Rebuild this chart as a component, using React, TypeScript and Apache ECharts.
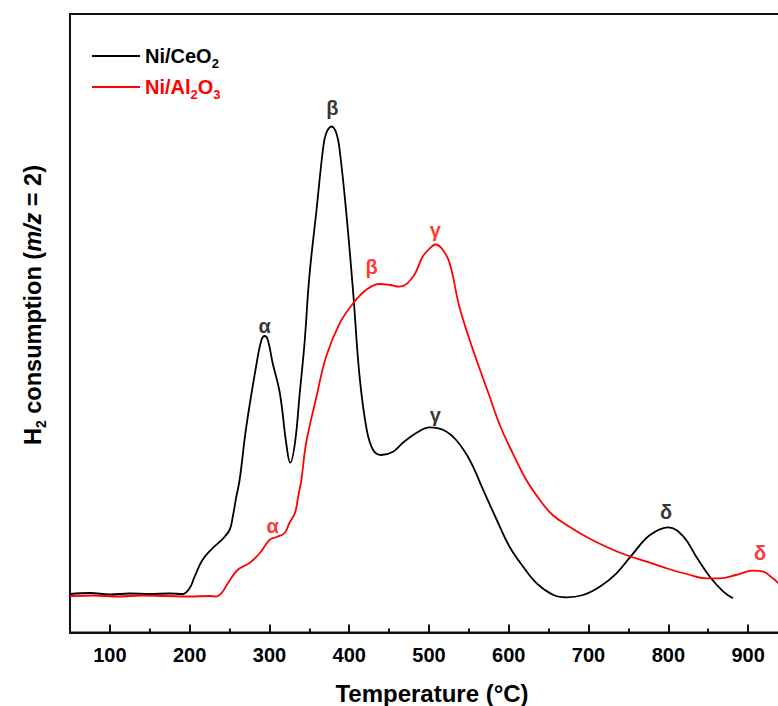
import React, { useEffect, useRef } from "react";
import * as echarts from "echarts";

// Temperature (°C) / H2 signal (arbitrary units)
const ceO2Curve: number[][] = [
  [50, 38.5], [75, 39.5], [100, 38], [125, 39], [150, 38.5], [175, 39], [191, 38.5],
  [200, 44.5], [206, 55.5], [216, 72.5], [229, 84.5], [240, 92.5], [250, 102.5],
  [254, 115.8], [258.5, 135.8], [262.6, 152.5], [271, 205.8], [284, 269.5], [290, 292.5],
  [294, 296.5], [298, 292.5], [304, 269.5], [313, 239.5], [321, 189.5], [326, 169.8],
  [332, 189.5], [338, 239.5], [344, 289.5], [350, 355.8], [359, 422.5], [367, 482.5],
  [371, 499], [378, 506], [384, 499], [388, 482.5], [396, 422.5], [405, 339.5],
  [413, 255.8], [422, 202.5], [430, 182.5], [440, 177.5], [455, 180.8], [467, 189.5],
  [484, 199.5], [501, 205.2], [518, 202.5], [534, 192.5], [551, 172.5], [568, 142.5],
  [585, 112.5], [601, 85.8], [618, 65.8], [635, 49.2], [656, 37.5], [672, 35.2],
  [693, 37.5], [714, 45.8], [735, 59.2], [756, 79.2], [777, 97.5], [800, 105.2],
  [819, 95.8], [835, 75.8], [852, 55.8], [869, 40.8], [881, 34.2]
];

const al2O3Curve: number[][] = [
  [50, 36.5], [80, 37], [110, 36], [140, 37], [170, 36.5], [200, 36], [225, 36.5],
  [233, 36], [241, 40.5], [248, 49.5], [260, 62.5], [275, 69.5], [288, 79.5],
  [300, 92.5], [309, 95.5], [319, 99.5], [325, 109.5], [332, 119.5], [336, 135.8],
  [340, 152.5], [346, 189.5], [359, 235.8], [371, 275.8], [388, 309.2], [405, 329.2],
  [421, 342.5], [438, 348.5], [451, 347.5], [463, 345.8], [480, 355.8], [492, 375.8],
  [501, 384.2], [508, 388], [517, 383], [526, 369], [538, 326], [551, 292.5],
  [564, 262.5], [576, 236], [589, 207], [605, 179.2], [622, 152.5], [639, 132.5],
  [655, 117.5], [676, 105.8], [697, 95.8], [722, 85.8], [747, 77.5], [773, 70.8],
  [798, 64.2], [823, 58.5], [848, 54.2], [864, 54.2], [885, 57.5], [906, 61.8],
  [919, 60.8], [931, 54.2], [938, 49.2], [950, 40]
];

// Peak labels: [temperature, signal, letter]
const ceO2Peaks: (number | string)[][] = [
  [294, 306.5, "α"], [379, 524.5, "β"], [508, 217.5, "γ"], [797, 120.8, "δ"]
];
const al2O3Peaks: (number | string)[][] = [
  [304, 106.5, "α"], [428, 365.8, "β"], [508, 402.5, "γ"], [915, 79.2, "δ"]
];

const majorTicks = [100, 200, 300, 400, 500, 600, 700, 800, 900];
const minorTicks = [150, 250, 350, 450, 550, 650, 750, 850];

const seriesNames = ["Ni/CeO2", "Ni/Al2O3"];
const legendRich: Record<string, string> = {
  "Ni/CeO2": "{n|Ni/CeO}{s|2}",
  "Ni/Al2O3": "{n|Ni/Al}{s|2}{n|O}{s|3}"
};

const FONT = "'Liberation Sans', Arial, Helvetica, sans-serif";

export default function App() {
  const ref = useRef<HTMLDivElement>(null);
  useEffect(() => {
    if (!ref.current) return;
    const chart = echarts.init(ref.current, undefined, { renderer: "svg" });
    const peakLabel = (color: string) => ({
      show: true,
      position: "inside" as const,
      formatter: (p: any) => p.data[2],
      fontSize: 20,
      fontWeight: "bold" as const,
      fontFamily: FONT,
      color
    });
    chart.setOption({
      animation: false,
      backgroundColor: "#fff",
      textStyle: { fontFamily: FONT },
      grid: {
        left: 70,
        top: 14,
        right: 2,
        bottom: 73.5,
        show: true,
        borderColor: "#111",
        borderWidth: 2,
        backgroundColor: "transparent"
      },
      legend: {
        orient: "vertical",
        left: 87,
        top: 37.5,
        itemGap: 4,
        itemWidth: 48,
        itemHeight: 2,
        icon: "rect",
        data: [
          { name: seriesNames[0], textStyle: { color: "#000" } },
          { name: seriesNames[1], textStyle: { color: "#ff0000" } }
        ],
        formatter: (name: string) => legendRich[name] || name,
        textStyle: {
          fontFamily: FONT,
          rich: {
            n: { fontSize: 20, fontWeight: "bold", fontFamily: FONT, lineHeight: 20 },
            s: { fontSize: 13, fontWeight: "bold", fontFamily: FONT, lineHeight: 13, padding: [14, 0, 0, 0] }
          }
        }
      },
      xAxis: [
        {
          type: "value",
          min: 50,
          max: 950,
          position: "bottom",
          splitLine: { show: false },
          axisLine: { show: true, onZero: false, lineStyle: { color: "#111", width: 2 } },
          axisTick: {
            show: true,
            inside: true,
            length: 8,
            customValues: majorTicks,
            lineStyle: { color: "#111", width: 2 }
          },
          axisLabel: {
            show: true,
            customValues: majorTicks,
            margin: 12,
            fontSize: 20,
            fontWeight: "bold",
            fontFamily: FONT,
            color: "#000"
          }
        },
        {
          type: "value",
          min: 50,
          max: 950,
          position: "bottom",
          splitLine: { show: false },
          axisLine: { show: false },
          axisTick: {
            show: true,
            inside: true,
            length: 4,
            customValues: minorTicks,
            lineStyle: { color: "#111", width: 2 }
          },
          axisLabel: { show: false }
        }
      ],
      yAxis: {
        type: "value",
        min: 0,
        max: 618.5,
        splitLine: { show: false },
        axisLine: { show: true, lineStyle: { color: "#111", width: 2 } },
        axisTick: { show: false },
        axisLabel: { show: false }
      },
      series: [
        {
          name: seriesNames[0],
          type: "line",
          data: ceO2Curve,
          showSymbol: false,
          symbol: "none",
          smooth: 0.4,
          color: "#000",
          lineStyle: { color: "#000", width: 1.8 }
        },
        {
          name: seriesNames[1],
          type: "line",
          data: al2O3Curve,
          showSymbol: false,
          symbol: "none",
          smooth: 0.4,
          color: "#ff0000",
          lineStyle: { color: "#ff0000", width: 1.8 }
        },
        {
          name: "ceO2 peaks",
          type: "scatter",
          data: ceO2Peaks,
          symbolSize: 1,
          itemStyle: { color: "rgba(0,0,0,0)" },
          label: peakLabel("#000"),
          silent: true
        },
        {
          name: "al2O3 peaks",
          type: "scatter",
          data: al2O3Peaks,
          symbolSize: 1,
          itemStyle: { color: "rgba(0,0,0,0)" },
          label: peakLabel("#ff0000"),
          silent: true
        }
      ],
      graphic: [
        {
          type: "text",
          x: 432,
          y: 693,
          style: {
            text: "Temperature (°C)",
            fontSize: 24,
            fontWeight: "bold",
            fontFamily: FONT,
            fill: "#000",
            align: "center",
            verticalAlign: "middle"
          }
        },
        {
          type: "text",
          x: 33,
          y: 305,
          rotation: Math.PI / 2,
          style: {
            text: "{n|H}{s|2}{n| consumption (}{i|m/z}{n| = 2)}",
            align: "center",
            verticalAlign: "middle",
            fill: "#000",
            rich: {
              n: { fontSize: 23.5, fontWeight: "bold", fontFamily: FONT, lineHeight: 23 },
              i: { fontSize: 23.5, fontWeight: "bold", fontStyle: "italic", fontFamily: FONT, lineHeight: 23 },
              s: { fontSize: 14, fontWeight: "bold", fontFamily: FONT, lineHeight: 14, padding: [15, 0, 0, 0] }
            }
          }
        }
      ]
    });
    return () => chart.dispose();
  }, []);
  return (
    <div
      style={{ position: "fixed", left: 0, top: 0, width: 778, height: 706, overflow: "hidden", background: "#fff" }}
    >
      <div ref={ref} style={{ width: 790, height: 706 }} />
    </div>
  );
}
